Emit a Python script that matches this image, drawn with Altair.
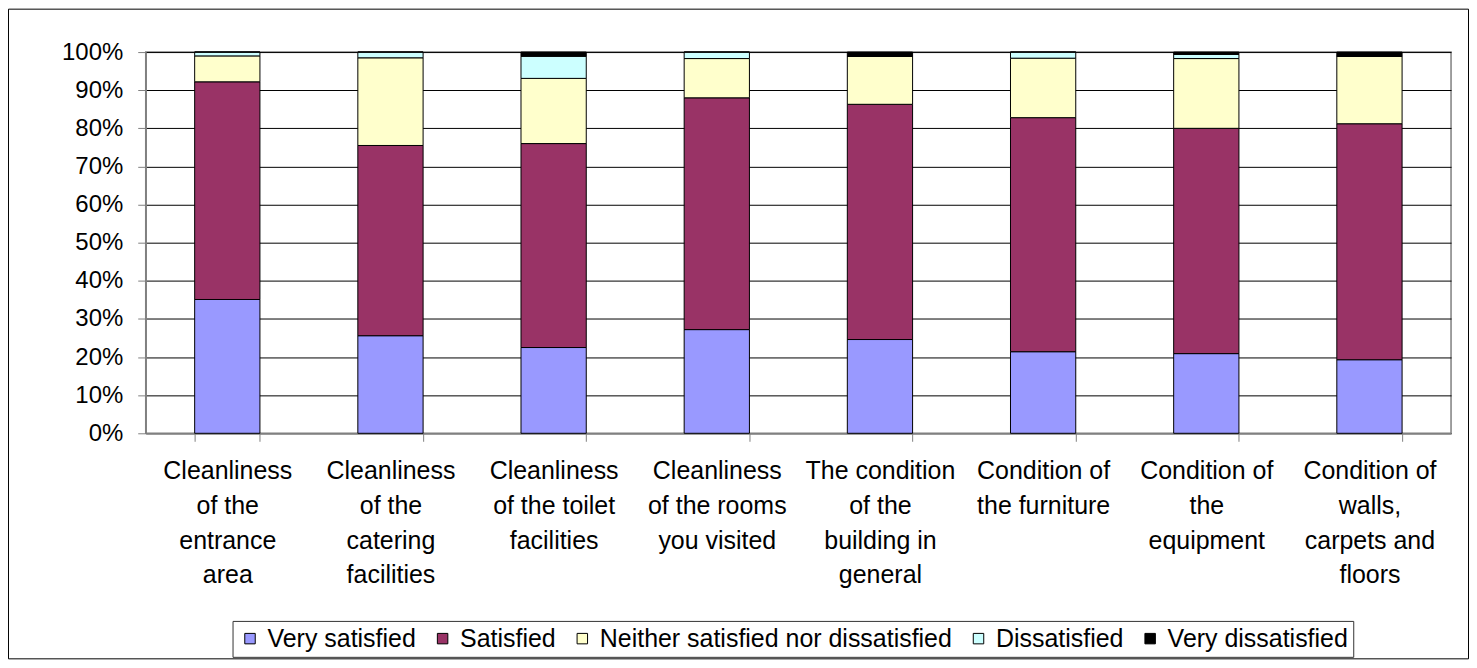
import json
import altair as alt
import pandas as pd

categories = [
    "Cleanliness of the entrance area",
    "Cleanliness of the catering facilities",
    "Cleanliness of the toilet facilities",
    "Cleanliness of the rooms you visited",
    "The condition of the building in general",
    "Condition of the furniture",
    "Condition of the equipment",
    "Condition of walls, carpets and floors",
]
category_lines = [
    ["Cleanliness", "of the", "entrance", "area"],
    ["Cleanliness", "of the", "catering", "facilities"],
    ["Cleanliness", "of the toilet", "facilities"],
    ["Cleanliness", "of the rooms", "you visited"],
    ["The condition", "of the", "building in", "general"],
    ["Condition of", "the furniture"],
    ["Condition of", "the", "equipment"],
    ["Condition of", "walls,", "carpets and", "floors"],
]
series = [
    "Very satisfied",
    "Satisfied",
    "Neither satisfied nor dissatisfied",
    "Dissatisfied",
    "Very dissatisfied",
]
colors = ["#9999FF", "#993366", "#FFFFCC", "#CCFFFF", "#000000"]

very_satisfied = [35.1, 25.6, 22.5, 27.2, 24.6, 21.4, 20.9, 19.3]
satisfied = [57.1, 49.9, 53.5, 60.8, 61.7, 61.4, 59.1, 61.9]
neither = [6.8, 23.0, 17.1, 10.3, 12.6, 15.6, 18.3, 17.7]
dissatisfied = [1.0, 1.5, 5.8, 1.7, 0.0, 1.6, 1.1, 0.0]
very_dissatisfied = [0.0, 0.0, 1.1, 0.0, 1.1, 0.0, 0.6, 1.1]

values_by_series = [very_satisfied, satisfied, neither, dissatisfied, very_dissatisfied]

rows = []
for si, (s, vals) in enumerate(zip(series, values_by_series)):
    for ci, c in enumerate(categories):
        rows.append({"category": c, "series": s, "rank": si, "value": vals[ci]})
df = pd.DataFrame(rows)

label_map = json.dumps(dict(zip(categories, category_lines)))

FONT = "Liberation Sans"
W, H = 1308, 382

bars = alt.Chart(df).mark_bar(stroke="black", strokeWidth=1).encode(
    x=alt.X(
        "category:N",
        sort=categories,
        title=None,
        scale=alt.Scale(paddingInner=0.6, paddingOuter=0.3),
        axis=alt.Axis(
            labelAngle=0,
            labelExpr=label_map + "[datum.label]",
            labelFont=FONT,
            labelFontSize=25,
            labelColor="black",
            labelLineHeight=35,
            labelBaseline="top",
            labelPadding=17,
            labelLimit=400,
            tickBand="extent",
            tickSize=8,
            tickColor="#808080",
            domainColor="#808080",
            domainWidth=1.5,
            grid=False,
        ),
    ),
    y=alt.Y(
        "value:Q",
        stack="normalize",
        title=None,
        scale=alt.Scale(domain=[0, 1]),
        axis=alt.Axis(
            format=".0%",
            values=[i / 10 for i in range(11)],
            labelFont=FONT,
            labelFontSize=24,
            labelColor="black",
            labelPadding=15,
            tickSize=8,
            tickColor="#808080",
            domainColor="#808080",
            domainWidth=1.5,
            grid=True,
            gridColor="black",
            gridWidth=1,
        ),
    ),
    color=alt.Color(
        "series:N",
        scale=alt.Scale(domain=series, range=colors),
        title=None,
        legend=alt.Legend(
            orient="none",
            legendX=87,
            legendY=570,
            direction="horizontal",
            columns=5,
            symbolType="square",
            symbolSize=110,
            symbolStrokeColor="black",
            symbolStrokeWidth=1,
            symbolOpacity=1,
            labelFont=FONT,
            labelFontSize=25,
            labelColor="black",
            labelOffset=5,
            labelLimit=600,
            columnPadding=14,
            padding=5,
            strokeColor="#333333",
            fillColor="white",
        ),
    ),
    order=alt.Order("rank:Q", sort="ascending"),
)

frame = alt.Chart(alt.Data(values=[{"k": 1}])).mark_rect(
    fill=None, stroke="black", strokeWidth=1
).encode(
    x=alt.value(-137.5),
    x2=alt.value(1325.5),
    y=alt.value(-43),
    y2=alt.value(608),
)

chart = alt.layer(frame, bars).properties(
    width=W,
    height=H,
    autosize=alt.AutoSizeParams(type="none"),
    padding={"left": 138, "top": 43.5, "right": 18, "bottom": 226.5},
    background="white",
).configure_view(stroke="#808080", strokeWidth=1.5)

chart.save("out.html", embed_options={"renderer": "svg", "actions": False})
